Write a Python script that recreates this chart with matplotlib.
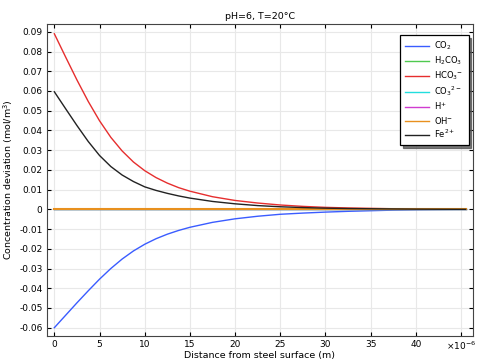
import matplotlib
matplotlib.use("Agg")
import matplotlib.pyplot as plt

# distance from steel surface (micrometres)
x_um = [0, 1.25, 2.5, 3.75, 5, 6.25, 7.5, 8.75, 10, 11.25, 12.5, 13.75, 15,
        17.5, 20, 22.5, 25, 27.5, 30, 32.5, 35, 37.5, 40, 42.5, 45.5]

co2 = [-0.0600, -0.0537, -0.0474, -0.0413, -0.0354, -0.0300, -0.0252, -0.0211,
       -0.0177, -0.0149, -0.0126, -0.0107, -0.0091, -0.0066, -0.0048, -0.0035,
       -0.0025, -0.0019, -0.0014, -0.0010, -0.0007, -0.0004, -0.0002, -0.0001,
       0.0]
hco3 = [0.0890, 0.0772, 0.0656, 0.0547, 0.0449, 0.0365, 0.0296, 0.0240,
        0.0196, 0.0161, 0.0133, 0.0110, 0.0092, 0.0064, 0.0045, 0.0032,
        0.0022, 0.0015, 0.0010, 0.0007, 0.0005, 0.0003, 0.0002, 0.0001, 0.0]
fe = [0.0596, 0.0510, 0.0425, 0.0344, 0.0273, 0.0217, 0.0174, 0.0141,
      0.0114, 0.0096, 0.0081, 0.0068, 0.0057, 0.0040, 0.0028, 0.0019,
      0.0013, 0.0009, 0.0006, 0.0004, 0.0003, 0.0002, 0.0001, 0.00005, 0.0]
# species that stay at zero deviation
h2co3 = [0.0] * len(x_um)
co3 = [0.0] * len(x_um)
h_ion = [0.0] * len(x_um)
oh = [0.0] * len(x_um)

labels = ["CO$_2$", "H$_2$CO$_3$", "HCO$_3$$^{-}$", "CO$_3$$^{2-}$",
          "H$^{+}$", "OH$^{-}$", "Fe$^{2+}$"]
series = [co2, h2co3, hco3, co3, h_ion, oh, fe]
colors = ["#3a5cff", "#4fc94f", "#e62e2e", "#22dede", "#d03cd0",
          "#e8901e", "#222222"]
widths = [1.0, 1.0, 1.0, 1.0, 1.0, 1.5, 1.0]

xticks = [0, 5, 10, 15, 20, 25, 30, 35, 40, 45]
xtick_labels = ["0", "5", "10", "15", "20", "25", "30", "35", "40",
                r"$\times10^{-6}$"]
yticks = [-0.06, -0.05, -0.04, -0.03, -0.02, -0.01, 0, 0.01, 0.02, 0.03,
          0.04, 0.05, 0.06, 0.07, 0.08, 0.09]

fig = plt.figure(figsize=(4.81, 3.63), dpi=100)
ax = fig.add_axes([0.097, 0.075, 0.886, 0.858])

for ys, lab, col, w in zip(series, labels, colors, widths):
    ax.plot(x_um, ys, color=col, lw=w, label=lab)

ax.set_xlim(-0.85, 46.3)
ax.set_ylim(-0.0641, 0.0938)
ax.set_xticks(xticks)
ax.set_xticklabels(xtick_labels)
ax.set_yticks(yticks)
ax.set_yticklabels(["0" if v == 0 else f"{v:.2f}" for v in yticks])
ax.tick_params(direction="in", top=True, right=True, labelsize=6.5,
               length=3, pad=3)
ax.grid(True, color="#e8e8e8", lw=0.8)
ax.set_axisbelow(True)
for sp in ax.spines.values():
    sp.set_color("#444444")

ax.set_title("pH=6, T=20°C", fontsize=6.8, pad=4)
ax.set_xlabel("Distance from steel surface (m)", fontsize=6.8, labelpad=-1)
ax.set_ylabel("Concentration deviation (mol/m$^3$)", fontsize=6.8, labelpad=3)

leg = ax.legend(loc="upper right", bbox_to_anchor=(0.99, 0.966),
                borderaxespad=0, fontsize=6.0, frameon=True, fancybox=False,
                shadow={"color": "#555555", "alpha": 0.8},
                handlelength=2.9, labelspacing=0.28,
                borderpad=0.6, handletextpad=0.6)
leg.get_frame().set_edgecolor("black")
leg.get_frame().set_linewidth(0.9)
for h in leg.get_lines():
    h.set_linewidth(1.0)

fig.savefig("out.png", dpi=100)
